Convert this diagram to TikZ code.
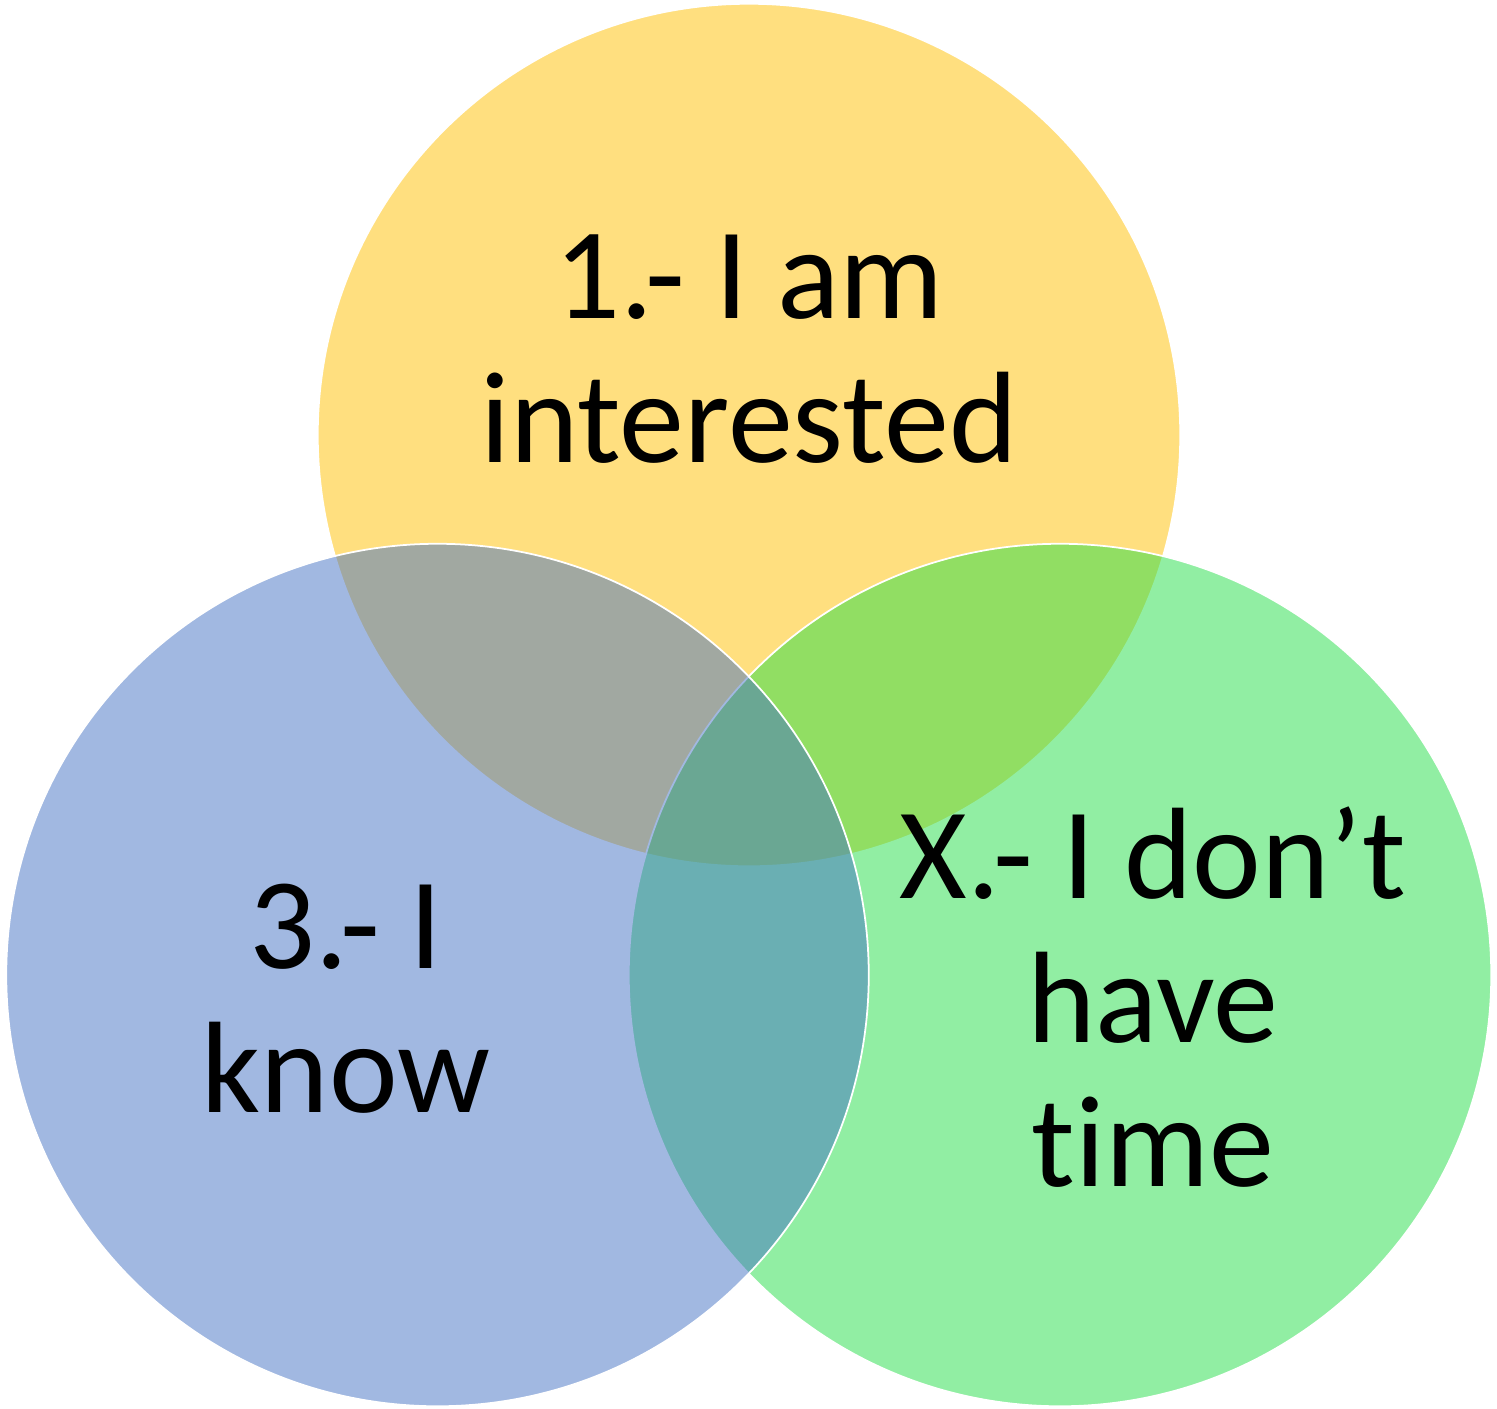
\documentclass[tikz,border=0pt]{standalone}
\usepackage{fontspec}
\setmainfont[Ligatures=NoCommon]{Carlito}
\usepackage{tikz}
\usetikzlibrary{positioning}

\definecolor{setyellow}{RGB}{255,192,0}
\definecolor{setblue}{RGB}{68,114,196}
\definecolor{setgreen}{RGB}{36,222,72}

\begin{document}
\begin{tikzpicture}[x=0.01cm, y=-0.01cm,
    venn/.style={circle, draw=white, line width=0.5pt, fill opacity=0.5,
                 inner sep=0pt, minimum size=8.62cm},
    label/.style={align=center, text=black,
                  font=\fontsize{37pt}{41pt}\selectfont}]
  \useasboundingbox (0,0) rectangle (1497,1408);
  \fill[white] (0,0) rectangle (1497,1408);
  \node (S1) [venn, fill=setyellow] at (749,435) {};
  \node (SX) [venn, fill=setgreen] at (1060,975) {};
  \node (S3) [venn, fill=setblue] at (437.5,975) {};
  \node (L1) [label] at (749,349) {1.- I am\\interested};
  \node (L3) [label] at (346,999) {3.- I\\know};
  \node (LX) [label] at (1153,997) {X.- I don’t\\have\\time};
\end{tikzpicture}
\end{document}
